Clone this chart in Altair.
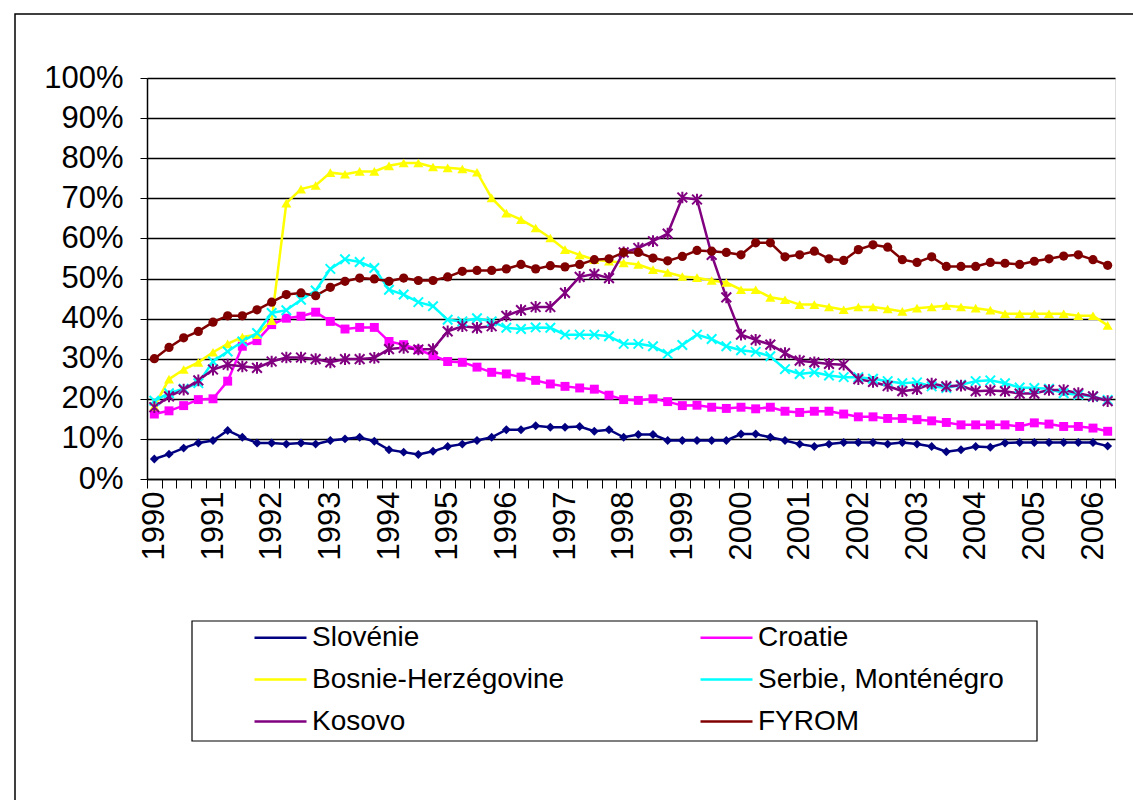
import altair as alt
import pandas as pd

# ---------------- data (percent, quarterly 1990Q1 .. 2006Q2) ----------------
series = ["Slovénie", "Croatie", "Bosnie-Herzégovine",
          "Serbie, Monténégro", "Kosovo", "FYROM"]
colors = ["#000080", "#FF00FF", "#FFFF00", "#00FFFF", "#800080", "#800000"]
first_year = 1990

slovenie = [
    5.0, 6.2, 7.7, 9.0, 9.6, 12.1, 10.4, 9.0, 9.0, 8.7,
    9.0, 8.7, 9.6, 10.0, 10.4, 9.4, 7.3, 6.7, 6.1, 6.9,
    8.1, 8.7, 9.6, 10.4, 12.3, 12.3, 13.3, 12.9, 12.9, 13.1,
    11.9, 12.3, 10.4, 11.1, 11.1, 9.6, 9.6, 9.6, 9.6, 9.6,
    11.2, 11.2, 10.4, 9.6, 8.7, 8.1, 8.7, 9.1, 9.1, 9.1,
    8.7, 9.1, 8.7, 8.1, 6.8, 7.3, 8.1, 7.9, 9.0, 9.1,
    9.1, 9.1, 9.1, 9.1, 9.1, 8.2]

croatie = [
    16.2, 17.0, 18.3, 19.8, 20.0, 24.4, 33.1, 34.5, 38.5, 40.1,
    40.6, 41.6, 39.3, 37.4, 37.8, 37.8, 34.3, 33.5, 32.3, 30.8,
    29.3, 29.1, 27.9, 26.6, 26.2, 25.4, 24.6, 23.7, 23.1, 22.7,
    22.4, 20.9, 19.8, 19.6, 20.0, 19.3, 18.3, 18.4, 17.9, 17.6,
    17.9, 17.5, 17.9, 16.9, 16.6, 16.9, 16.9, 16.2, 15.5, 15.5,
    15.1, 15.1, 14.8, 14.5, 14.1, 13.5, 13.5, 13.5, 13.5, 13.1,
    14.0, 13.7, 13.1, 13.1, 12.7, 11.9]

bosnie = [
    18.1, 24.9, 27.3, 29.1, 31.6, 33.7, 35.4, 36.0, 39.5, 68.8,
    72.3, 73.2, 76.4, 76.0, 76.7, 76.7, 78.1, 78.8, 78.8, 77.8,
    77.6, 77.3, 76.5, 70.1, 66.3, 64.7, 62.6, 60.1, 57.2, 55.9,
    54.7, 54.3, 53.9, 53.5, 52.2, 51.5, 50.5, 50.2, 49.5, 49.0,
    47.2, 47.2, 45.3, 44.7, 43.5, 43.5, 42.9, 42.2, 42.9, 42.9,
    42.4, 41.8, 42.6, 42.9, 43.2, 42.9, 42.6, 42.1, 41.2, 41.2,
    41.2, 41.2, 41.2, 40.7, 40.7, 38.3]

serbie = [
    19.5, 21.4, 22.5, 23.9, 29.3, 31.8, 34.3, 36.4, 41.4, 42.1,
    44.7, 47.0, 52.4, 54.8, 54.1, 52.6, 47.2, 46.0, 44.1, 43.1,
    39.7, 39.3, 40.1, 39.3, 37.7, 37.4, 37.8, 37.7, 36.0, 36.0,
    36.0, 35.6, 33.7, 33.7, 33.1, 31.2, 33.4, 36.0, 34.9, 33.1,
    32.1, 31.7, 30.6, 27.4, 26.2, 26.6, 25.8, 25.4, 25.4, 25.0,
    24.4, 23.9, 24.1, 23.1, 22.7, 23.5, 24.4, 24.6, 23.9, 22.8,
    22.7, 22.5, 21.4, 21.0, 20.5, 19.7]

kosovo = [
    17.9, 20.6, 22.3, 24.6, 27.3, 28.5, 28.1, 27.7, 29.3, 30.3,
    30.3, 29.9, 29.1, 29.9, 29.9, 30.2, 32.4, 32.7, 32.3, 32.4,
    36.8, 38.1, 37.7, 38.1, 40.7, 42.1, 42.9, 42.9, 46.4, 50.4,
    51.1, 50.1, 56.5, 57.6, 59.3, 61.2, 70.2, 69.7, 55.9, 45.3,
    36.0, 34.7, 33.5, 31.4, 29.5, 29.1, 28.7, 28.5, 24.9, 24.2,
    23.2, 21.9, 22.4, 23.8, 23.1, 23.3, 21.9, 22.1, 21.9, 21.3,
    21.3, 22.2, 22.2, 21.4, 20.6, 19.4]

fyrom = [
    30.0, 32.8, 35.2, 36.8, 39.1, 40.7, 40.7, 42.2, 44.1, 46.0,
    46.4, 45.7, 47.8, 49.3, 50.1, 49.9, 49.3, 50.1, 49.5, 49.5,
    50.4, 51.8, 52.0, 52.0, 52.4, 53.5, 52.4, 53.2, 52.9, 53.5,
    54.7, 54.9, 56.5, 56.5, 55.1, 54.4, 55.5, 57.0, 56.8, 56.5,
    55.9, 58.9, 58.9, 55.4, 55.9, 56.8, 54.9, 54.5, 57.2, 58.4,
    57.8, 54.7, 54.0, 55.4, 53.0, 53.0, 53.0, 54.0, 53.8, 53.5,
    54.3, 54.9, 55.6, 55.9, 54.7, 53.3]

y_ticks = [i / 10 for i in range(11)]

rows = []
for name, vals in zip(series, [slovenie, croatie, bosnie, serbie, kosovo, fyrom]):
    for q, v in enumerate(vals):
        rows.append({"q": q, "series": name, "value": v / 100.0})
df = pd.DataFrame(rows)

# ---------------- layout ----------------
LEFT, TOP, W, H = 147, 78, 968, 401
FONT = "Liberation Sans"
AXIS_FS = 31

# one marker per series (Excel style): diamond, square, triangle, x, asterisk, circle
X_PATH = "M-1,-1L1,1M-1,1L1,-1"
STAR_PATH = "M-1,-1L1,1M-1,1L1,-1M0,-1.2L0,1.2"
shapes = ["diamond", "square", "triangle-up", X_PATH, STAR_PATH, "circle"]
filled = [True, True, True, False, False, True]
sizes = [80, 80, 100, 90, 95, 85]

x_enc = alt.X(
    "q:O",
    bandPosition=0.5,
    scale=alt.Scale(type="band", paddingInner=0, paddingOuter=0),
    axis=alt.Axis(
        title=None, tickBand="extent", grid=False,
        labelExpr=f"datum.value % 4 == 0 ? '' + ({first_year} + datum.value / 4) : ''",
        labelAngle=-90, labelFontSize=AXIS_FS, labelFont=FONT, labelColor="black",
        labelOverlap=False, labelPadding=3, labelBound=False, labelFlush=False,
        tickColor="black", tickSize=9, tickWidth=1,
        domainColor="black", domainWidth=1.5,
    ),
)
y_enc = alt.Y(
    "value:Q",
    scale=alt.Scale(domain=[0, 1], nice=False),
    axis=alt.Axis(
        title=None, values=y_ticks, format=".0%",
        labelFontSize=AXIS_FS, labelFont=FONT, labelColor="black", labelPadding=17,
        tickColor="black", tickSize=7, tickWidth=1,
        domainColor="black", domainWidth=1.5,
        gridColor="black", gridWidth=1.3, gridOpacity=1,
    ),
)

base = alt.Chart(df)

lines = base.mark_line(strokeWidth=2.5).encode(
    x=x_enc, y=y_enc,
    color=alt.Color(
        "series:N", scale=alt.Scale(domain=series, range=colors), sort=series,
        legend=alt.Legend(
            title=None, orient="none", legendX=106, legendY=532,
            direction="horizontal", columns=2, columnPadding=130, rowPadding=-12,
            symbolType="stroke", symbolSize=2704, symbolStrokeWidth=2.5,
            labelFontSize=28, labelFont=FONT, labelColor="black",
            labelOffset=4, labelLimit=0, padding=0,
        ),
    ),
)

# one marker layer per series, styled like the Excel markers
marker_layers = []
for name, col, shp, fil, sz in zip(series, colors, shapes, filled, sizes):
    marker_layers.append(
        base.transform_filter(alt.datum.series == name).mark_point(
            shape=shp, filled=fil, color=col, size=sz, opacity=1,
            strokeWidth=(0 if fil else 2),
        ).encode(x=x_enc, y=y_enc)
    )

frame_data = alt.Data(values=[{"k": 1}])
outer_frame = alt.Chart(frame_data).mark_rect(
    fill="transparent", stroke="black", strokeWidth=1.5
).encode(
    x=alt.value(15 - LEFT), x2=alt.value(1250 - LEFT),
    y=alt.value(14 - TOP), y2=alt.value(900 - TOP),
)
legend_box = alt.Chart(frame_data).mark_rect(
    fill="transparent", stroke="black", strokeWidth=1.2
).encode(
    x=alt.value(192 - LEFT), x2=alt.value(1037 - LEFT),
    y=alt.value(621 - TOP), y2=alt.value(741 - TOP),
)

chart = alt.layer(outer_frame, legend_box, lines, *marker_layers).properties(
    width=W, height=H,
    padding={"left": LEFT, "top": TOP, "right": 1133 - LEFT - W, "bottom": 800 - TOP - H},
    autosize=alt.AutoSizeParams(type="none"),
    background="white",
).configure_view(
    fill="#C0C0C0", stroke="#808080", strokeWidth=2,
).configure(font=FONT)

chart.save("out.html", embed_options={"renderer": "svg", "actions": False})
